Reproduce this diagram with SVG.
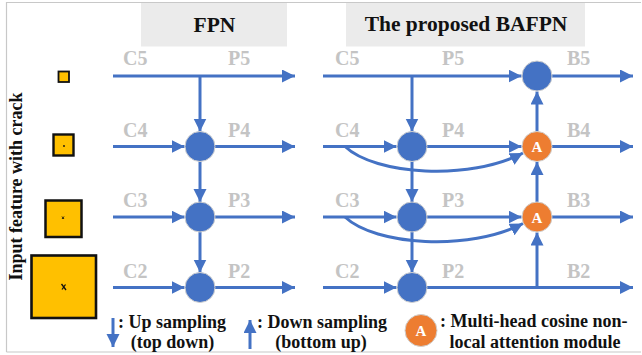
<svg xmlns="http://www.w3.org/2000/svg" width="642" height="355" viewBox="0 0 642 355">
<style>
.tb{font-family:"Liberation Serif","Times New Roman",serif;font-weight:bold;}
.title{font-size:21.5px;fill:#111;}
.lbl{font-size:20px;fill:#C4C4C4;}
.leg{font-size:18px;fill:#111;}
.ln{stroke:#4472C4;stroke-width:3;fill:none;}
.ar{marker-end:url(#ah);}
.nb{fill:#4472C4;stroke:#D0D0D0;stroke-width:1;}
.no{fill:#ED7D31;stroke:#D0D0D0;stroke-width:1;}
.at{font-size:15px;fill:#fff;text-anchor:middle;}
.sq{fill:#FFC000;stroke:#111;}
</style>
<defs>
<marker id="ah" markerUnits="userSpaceOnUse" markerWidth="14" markerHeight="14" refX="13" refY="6.5" orient="auto" viewBox="0 0 14 14">
<path d="M0,0 L13,6.5 L0,13 Z" fill="#4472C4"/>
</marker>
</defs>
<rect width="642" height="355" fill="#fff"/>
<path d="M6.5,352 V2.5 H641" fill="none" stroke="#C8C8C8" stroke-width="1.2"/>
<path d="M6.5,352 H641" fill="none" stroke="#C8C8C8" stroke-width="1.2"/>

<g id="titles">
<rect x="141" y="3" width="146" height="43.5" fill="#EBEBEB"/>
<text class="tb title" x="214.5" y="32" text-anchor="middle">FPN</text>
<rect x="346" y="3" width="239" height="43.5" fill="#EBEBEB"/>
<text class="tb title" x="466" y="31" text-anchor="middle">The proposed BAFPN</text>
</g>

<g id="input-label">
<text class="tb leg" transform="translate(21.5,186.5) rotate(-90)" text-anchor="middle">Input feature with crack</text>
</g>

<g id="inputs">
<rect class="sq" x="58.5" y="71.5" width="10.5" height="10.5" stroke-width="1.8"/>
<rect class="sq" x="53.5" y="134.5" width="20" height="21" stroke-width="2.4"/>
<circle cx="64" cy="146" r="0.9" fill="#111"/>
<rect class="sq" x="45.5" y="200.5" width="36" height="36.5" stroke-width="2.5"/>
<path d="M62,216.5 L64,219 M64,216.5 L62,219" stroke="#111" stroke-width="0.9"/>
<rect class="sq" x="31.5" y="255.5" width="64.5" height="62.5" stroke-width="2.6"/>
<path d="M61.5,284 L66,290 M65.5,284.5 L62,289.5" stroke="#111" stroke-width="1.3"/>
</g>

<g id="connectors">
<!-- FPN -->
<path class="ln ar" d="M113,76 H295"/>
<path class="ln ar" d="M200,76 V131.5"/>
<path class="ln ar" d="M113,146.5 H184.5"/>
<path class="ln ar" d="M215,146.5 H295"/>
<path class="ln ar" d="M200,161.5 V202"/>
<path class="ln ar" d="M113,217 H184.5"/>
<path class="ln ar" d="M215,217 H295"/>
<path class="ln ar" d="M200,232 V272.5"/>
<path class="ln ar" d="M113,287.5 H184.5"/>
<path class="ln ar" d="M215,287.5 H295"/>
<!-- BAFPN -->
<path class="ln ar" d="M323,76 H521.5"/>
<path class="ln ar" d="M552,76 H633"/>
<path class="ln ar" d="M412,76 V131.5"/>
<path class="ln ar" d="M323,146.5 H396.5"/>
<path class="ln ar" d="M427,146.5 H521.5"/>
<path class="ln ar" d="M552,146.5 H633"/>
<path class="ln ar" d="M345,146.5 C375,175 470,181 523,153"/>
<path class="ln ar" d="M412,161.5 V202"/>
<path class="ln ar" d="M323,217 H396.5"/>
<path class="ln ar" d="M427,217 H521.5"/>
<path class="ln ar" d="M552,217 H633"/>
<path class="ln ar" d="M345,217 C375,245.5 470,251.5 523,223.5"/>
<path class="ln ar" d="M412,232 V272.5"/>
<path class="ln ar" d="M323,287.5 H396.5"/>
<path class="ln ar" d="M427,287.5 H633"/>
<path class="ln ar" d="M537,287.5 V232.5"/>
<path class="ln ar" d="M537,202 V162"/>
<path class="ln ar" d="M537,131.5 V91.5"/>
<!-- legend arrows -->
<path class="ln ar" d="M113,318 V347"/>
<path class="ln ar" d="M250,349 V320"/>
</g>

<g id="labels">
<text class="tb lbl" x="123" y="65">C5</text>
<text class="tb lbl" x="228" y="65">P5</text>
<text class="tb lbl" x="123" y="136.5">C4</text>
<text class="tb lbl" x="228" y="136.5">P4</text>
<text class="tb lbl" x="123" y="207">C3</text>
<text class="tb lbl" x="228" y="207">P3</text>
<text class="tb lbl" x="123" y="277.5">C2</text>
<text class="tb lbl" x="228" y="277.5">P2</text>
<text class="tb lbl" x="335" y="65">C5</text>
<text class="tb lbl" x="442" y="65">P5</text>
<text class="tb lbl" x="567" y="65">B5</text>
<text class="tb lbl" x="335" y="136.5">C4</text>
<text class="tb lbl" x="442" y="136.5">P4</text>
<text class="tb lbl" x="567" y="136.5">B4</text>
<text class="tb lbl" x="335" y="207">C3</text>
<text class="tb lbl" x="442" y="207">P3</text>
<text class="tb lbl" x="567" y="207">B3</text>
<text class="tb lbl" x="335" y="277.5">C2</text>
<text class="tb lbl" x="442" y="277.5">P2</text>
<text class="tb lbl" x="567" y="277.5">B2</text>
</g>

<g id="fpn-p4"><circle class="nb" cx="200" cy="146.5" r="15"/></g>
<g id="fpn-p3"><circle class="nb" cx="200" cy="217" r="15"/></g>
<g id="fpn-p2"><circle class="nb" cx="200" cy="287.5" r="15"/></g>
<g id="bafpn-p4"><circle class="nb" cx="412" cy="146.5" r="15"/></g>
<g id="bafpn-p3"><circle class="nb" cx="412" cy="217" r="15"/></g>
<g id="bafpn-p2"><circle class="nb" cx="412" cy="287.5" r="15"/></g>
<g id="bafpn-b5"><circle class="nb" cx="537" cy="76" r="15"/></g>
<g id="bafpn-a4"><circle class="no" cx="537" cy="146.5" r="15"/><text class="tb at" x="537" y="152">A</text></g>
<g id="bafpn-a3"><circle class="no" cx="537" cy="217" r="15"/><text class="tb at" x="537" y="222.5">A</text></g>

<g id="legend">
<text class="tb leg" x="118" y="328">: Up sampling</text>
<text class="tb leg" x="172.5" y="348" text-anchor="middle">(top down)</text>
<text class="tb leg" x="257" y="328">: Down sampling</text>
<text class="tb leg" x="321" y="348" text-anchor="middle">(bottom up)</text>
<circle class="no" cx="421" cy="330.5" r="16"/>
<text class="tb at" x="421" y="336">A</text>
<text class="tb leg" x="440" y="327">: Multi-head cosine non-</text>
<text class="tb leg" x="535" y="348" text-anchor="middle">local attention module</text>
</g>
</svg>
